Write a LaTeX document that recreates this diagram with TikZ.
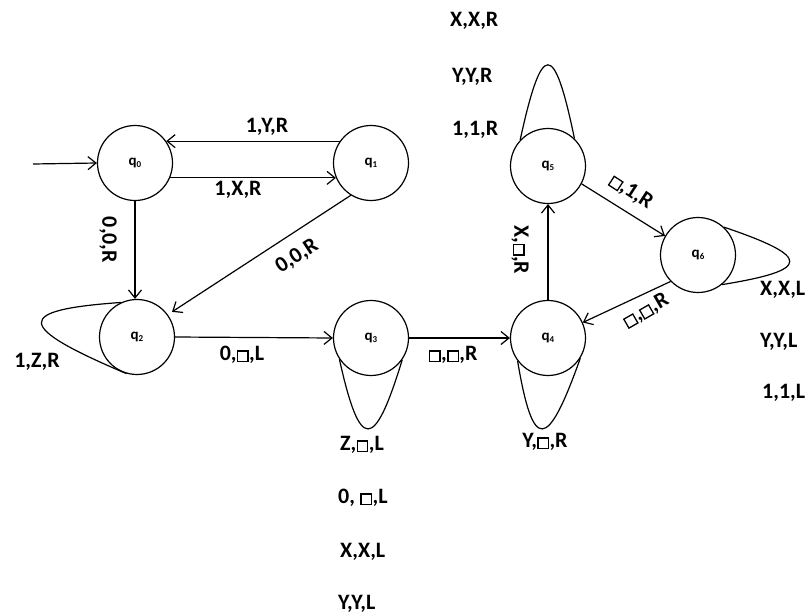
\documentclass[tikz,border=0pt]{standalone}
\usepackage{fontspec}
\setmainfont{Carlito}
\usetikzlibrary{arrows.meta}
\newcommand\bx{\kern0.5pt{\setlength\fboxsep{0pt}\setlength\fboxrule{1.3pt}\fbox{\rule{0pt}{9pt}\rule{9pt}{0pt}}}\kern0.5pt}
\newcommand\qs[1]{q\raisebox{-2.5pt}{\fontsize{9}{9}\selectfont #1}}
\tikzset{
  st/.style={circle,draw,line width=1.2pt,minimum size=75pt,inner sep=0pt,font=\fontsize{15}{15}\selectfont\bfseries},
  lbl/.style={font=\fontsize{22}{24}\selectfont\bfseries,inner sep=0pt},
  tr/.style={-{Straight Barb[length=8pt,width=13pt,line width=1.2pt]},line width=1.2pt},
  lp/.style={line width=1.2pt},
}
\begin{document}
\begin{tikzpicture}[x=1pt,y=-1pt]
\useasboundingbox[fill=white] (0,0) rectangle (809,615);
% states
\node[st] (q0) at (135,163) {\qs{0}};
\node[st] (q1) at (371,163) {\qs{1}};
\node[st] (q2) at (137,337) {\qs{2}};
\node[st] (q3) at (371,338) {\qs{3}};
\node[st] (q4) at (548,338) {\qs{4}};
\node[st] (q5) at (548,166) {\qs{5}};
\node[st] (q6) at (698,255) {\qs{6}};
\coordinate (start) at (33,164);
% transitions
\draw[tr] (start) -- (q0.west);
\draw[tr] (q1.145) -- (q0.35);
\draw[tr] (q0.-23) -- (q1.203);
\draw[tr] (q0.south) -- (q0.south |- q2.north);
\draw[tr,shorten >=5pt] (q1.238) -- (q2.36);
\draw[tr] (q2.east) -- (q3.west);
\draw[tr] (q3.east) -- (q4.west);
\draw[tr] (q4.north) -- (q5.south);
\draw[tr] (q5.-28) -- (q6.150);
\draw[tr] (q6.224) -- (q4.24);
% loops
\draw[lp] (q2.115) .. controls (14,310) and (14,326) .. (q2.254);
\draw[lp] (q3.214) .. controls (360,452) and (374,452) .. (q3.325);
\draw[lp] (q4.217) .. controls (533,452) and (547,452) .. (q4.328);
\draw[lp] (q5.137) .. controls (542,40) and (554,40) .. (q5.46);
\draw[lp] (q6.47) .. controls (812,257) and (812,270) .. (q6.-51);
% labels
\node[lbl] (l01) at (238,190) {1,X,R};
\node[lbl] (l10) at (267,127) {1,Y,R};
\node[lbl,rotate=-90] (l02) at (108,240) {0,0,R};
\node[lbl,rotate=33] (l12) at (297,256) {0,0,R};
\node[lbl] (l22) at (37,362) {1,Z,R};
\node[lbl] (l23) at (242,355) {0,\bx,L};
\node[lbl] (l34) at (453,355) {\bx,\bx,R};
\node[lbl,anchor=west] (l33a) at (340,445) {Z,\bx,L};
\node[lbl,anchor=west] (l33b) at (338,498) {0, \bx,L};
\node[lbl,anchor=west] (l33c) at (340,552) {X,X,L};
\node[lbl,anchor=west] (l33d) at (338,604) {Y,Y,L};
\node[lbl] (l44) at (545,442) {Y,\bx,R};
\node[lbl,rotate=-90] (l45) at (520,250) {X,\bx,R};
\node[lbl,anchor=west] (l55a) at (450,21) {X,X,R};
\node[lbl,anchor=west] (l55b) at (452,77) {Y,Y,R};
\node[lbl,anchor=west] (l55c) at (452,130) {1,1,R};
\node[lbl,rotate=-33] (l56) at (631,192) {\bx,1,R};
\node[lbl,rotate=30] (l64) at (646,311) {\bx,\bx,R};
\node[lbl,anchor=west] (l66a) at (760,290) {X,X,L};
\node[lbl,anchor=west] (l66b) at (760,342) {Y,Y,L};
\node[lbl,anchor=west] (l66c) at (762,393) {1,1,L};
\end{tikzpicture}
\end{document}
